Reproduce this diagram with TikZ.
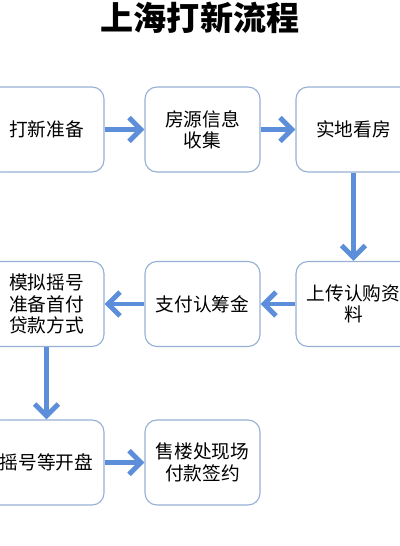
\documentclass[tikz,border=0pt]{standalone}
\usepackage{fontspec}
\setmainfont{Noto Sans CJK SC}
\usetikzlibrary{arrows.meta}
\definecolor{boxline}{RGB}{150,175,210}
\definecolor{flow}{RGB}{92,142,218}
\begin{document}
\begin{tikzpicture}[x=0.025cm, y=-0.025cm,
  stage/.style={draw=boxline, line width=0.8pt, rounded corners=0.3cm, minimum width=2.875cm, minimum height=2.125cm, inner sep=0pt, align=center, font=\fontsize{13.3}{15.2}\selectfont},
  flowarrow/.style={draw=flow, line width=3.5pt, -{Straight Barb[length=8.5pt, width=17pt]}}]
  \clip (0,0) rectangle (400,546);
  \node[font=\fontsize{23.5}{26}\selectfont\bfseries] (title) at (200,18) {上海打新流程};
  \node[stage] (prep) at (46.5,129.5) {打新准备};
  \node[stage] (collect) at (202.5,129.5) {房源信息\\收集};
  \node[stage] (visit) at (353.5,129.5) {实地看房};
  \node[stage] (upload) at (353.5,304) {上传认购资\\料};
  \node[stage] (pay) at (202.5,304) {支付认筹金};
  \node[stage] (mock) at (46.5,304) {模拟摇号\\准备首付\\贷款方式};
  \node[stage] (lottery) at (46.5,462.5) {摇号等开盘};
  \node[stage] (sign) at (202.5,462.5) {售楼处现场\\付款签约};
  \draw[flowarrow] (prep) -- (collect);
  \draw[flowarrow] (collect) -- (visit);
  \draw[flowarrow] (visit) -- (upload);
  \draw[flowarrow] (upload) -- (pay);
  \draw[flowarrow] (pay) -- (mock);
  \draw[flowarrow] (mock) -- (lottery);
  \draw[flowarrow] (lottery) -- (sign);
\end{tikzpicture}
\end{document}
